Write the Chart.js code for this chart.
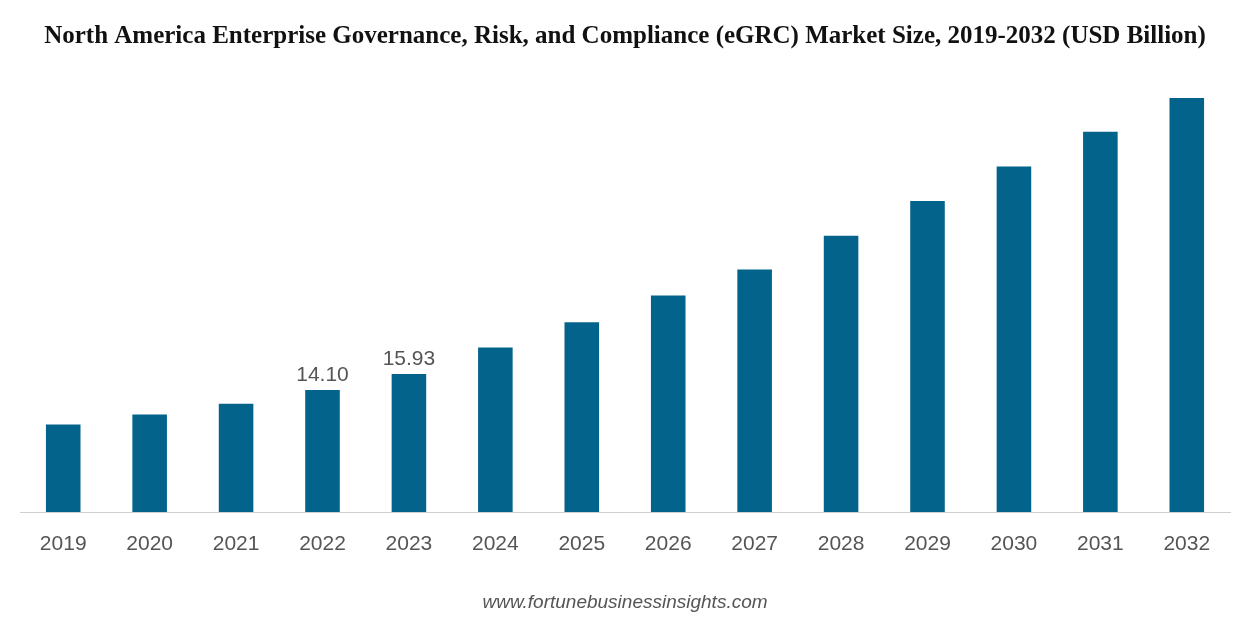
<!DOCTYPE html>
<html>
<head>
<meta charset="utf-8">
<script src="https://cdn.jsdelivr.net/npm/chart.js@4"></script>
<style>
  html, body { margin: 0; padding: 0; background: #fff; }
  #wrap { width: 1246px; height: 620px; }
</style>
</head>
<body>
<div id="wrap"><canvas id="marketChart"></canvas></div>
<script>
const years = ["2019", "2020", "2021", "2022", "2023", "2024", "2025", "2026", "2027", "2028", "2029", "2030", "2031", "2032"];
const marketSize = [10.1, 11.25, 12.5, 14.10, 15.93, 19.0, 21.9, 25.0, 28.0, 31.9, 35.9, 39.9, 43.9, 47.8];
const labelledYears = ["2022", "2023"];

// value labels only on the highlighted years
const valueLabels = {
  id: "valueLabels",
  afterDatasetsDraw(chart) {
    const ctx = chart.ctx;
    const meta = chart.getDatasetMeta(0);
    ctx.save();
    ctx.font = "21px 'Liberation Sans', Arial, sans-serif";
    ctx.fillStyle = "#555";
    ctx.textAlign = "center";
    ctx.textBaseline = "bottom";
    meta.data.forEach((bar, i) => {
      if (labelledYears.includes(years[i])) {
        ctx.fillText(marketSize[i].toFixed(2), bar.x, bar.y - 4);
      }
    });
    ctx.restore();
  },
};

new Chart(document.getElementById("marketChart"), {
  type: "bar",
  data: {
    labels: years,
    datasets: [
      {
        label: "Market Size",
        data: marketSize,
        backgroundColor: "#03638a",
        categoryPercentage: 1,
        barPercentage: 0.4,
      },
    ],
  },
  options: {
    responsive: true,
    maintainAspectRatio: false,
    animation: false,
    layout: { padding: { left: 20, right: 16, top: 0, bottom: 6 } },
    plugins: {
      legend: { display: false },
      tooltip: { enabled: false },
      title: {
        display: true,
        text: "North America Enterprise Governance, Risk, and Compliance (eGRC) Market Size, 2019-2032 (USD Billion)",
        font: { family: "'Liberation Serif', 'Times New Roman', serif", size: 25, weight: "bold" },
        color: "#111",
        padding: { top: 22, bottom: 40 },
      },
      subtitle: {
        display: true,
        position: "bottom",
        text: "www.fortunebusinessinsights.com",
        font: { family: "'Liberation Sans', Arial, sans-serif", size: 19, style: "italic" },
        color: "#555",
        padding: { top: 22, bottom: 0 },
      },
    },
    scales: {
      x: {
        grid: { display: false },
        border: { color: "#d0d0d0", width: 1 },
        ticks: {
          color: "#555",
          font: { family: "'Liberation Sans', Arial, sans-serif", size: 21 },
          padding: 12,
        },
      },
      y: {
        display: false,
        min: 0,
        max: 48.5,
      },
    },
  },
  plugins: [valueLabels],
});
</script>
</body>
</html>
